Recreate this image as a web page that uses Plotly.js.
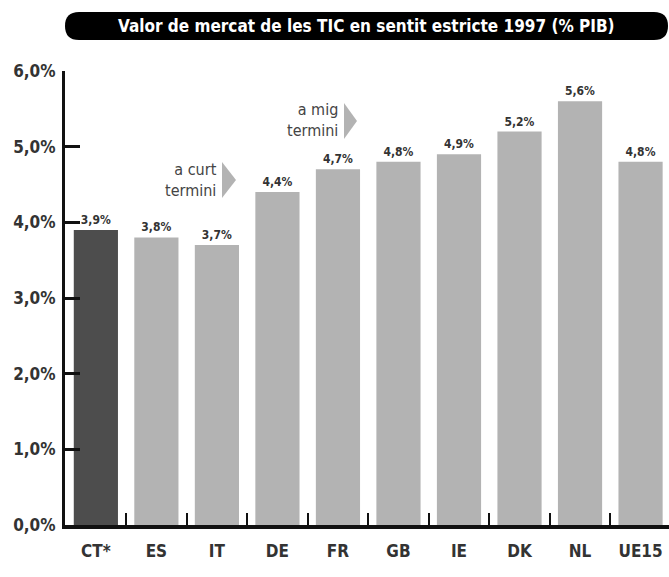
<!DOCTYPE html>
<html><head><meta charset="utf-8">
<script src="https://cdn.plot.ly/plotly-3.0.1.min.js"></script>
<style>html,body{margin:0;padding:0;background:#fff}#chart{width:669px;height:577px}</style>
</head><body><div id="chart"></div>
<script>
const categories = ["CT*","ES","IT","DE","FR","GB","IE","DK","NL","UE15"];
const values = [3.9,3.8,3.7,4.4,4.7,4.8,4.9,5.2,5.6,4.8];
const valueLabels = ["3,9%","3,8%","3,7%","4,4%","4,7%","4,8%","4,9%","5,2%","5,6%","4,8%"];
const yTickVals = [0,1,2,3,4,5,6];
const yTickText = ["0,0%","1,0%","2,0%","3,0%","4,0%","5,0%","6,0%"];
const titleText = "Valor de mercat de les TIC en sentit estricte 1997 (% PIB)";

const W=669,H=577,L=65,R=0,T=71,B=52;
const pw=W-L-R, ph=H-T-B;
const px=x=>(x-L)/pw, py=y=>(H-B-y)/ph;
const FONT='"DejaVu Sans Condensed",Arial,sans-serif';

function pill(x0,y0,x1,y1,r){
  const P=(x,y)=>px(x).toFixed(5)+','+py(y).toFixed(5);
  return 'M'+P(x0+r,y0)+' L'+P(x1-r,y0)+' Q'+P(x1,y0)+' '+P(x1,y0+r)+' L'+P(x1,y1-r)+' Q'+P(x1,y1)+' '+P(x1-r,y1)+
    ' L'+P(x0+r,y1)+' Q'+P(x0,y1)+' '+P(x0,y1-r)+' L'+P(x0,y0+r)+' Q'+P(x0,y0)+' '+P(x0+r,y0)+' Z';
}
function tri(x0,y0,x1,y1){
  const P=(x,y)=>px(x).toFixed(5)+','+py(y).toFixed(5);
  return 'M'+P(x0,y0)+' L'+P(x1,(y0+y1)/2)+' L'+P(x0,y1)+' Z';
}

const colors = categories.map((c,i)=> i===0 ? '#4d4d4d' : '#b3b3b3');

const trace = {
  type:'bar', x:categories, y:values, text:valueLabels, textposition:'outside',
  marker:{color:colors, line:{width:0}},
  textfont:{family:FONT, size:12, color:'#333', weight:'bold'},
  cliponaxis:false, hoverinfo:'none'
};

const layout = {
  width:W, height:H, margin:{l:L,r:R,t:T,b:B}, showlegend:false,
  paper_bgcolor:'#fff', plot_bgcolor:'#fff', bargap:0.27,
  xaxis:{type:'category', range:[-0.51,9.47], showline:true, linewidth:4, linecolor:'#111',
    ticks:'inside', tickson:'boundaries', ticklen:12, tickwidth:2, tickcolor:'#111',
    showgrid:false, zeroline:false, fixedrange:true,
    tickfont:{family:FONT, size:17, color:'#333', weight:'bold'}, ticklabelstandoff:8},
  yaxis:{range:[0,6], showline:true, linewidth:3, linecolor:'#111',
    ticks:'inside', ticklen:15, tickwidth:3, tickcolor:'#111',
    tickvals:yTickVals, ticktext:yTickText, showgrid:false, zeroline:false,
    tickfont:{family:FONT, size:17, color:'#333', weight:'bold'}, ticklabelstandoff:3},
  shapes:[
    {type:'path', xref:'paper', yref:'paper', path:pill(65,12,668,40,14), fillcolor:'#000', line:{width:0}},
    {type:'path', xref:'paper', yref:'paper', path:tri(222,162,236,198), fillcolor:'#b3b3b3', line:{width:0}},
    {type:'path', xref:'paper', yref:'paper', path:tri(344,103,357,139), fillcolor:'#b3b3b3', line:{width:0}}
  ],
  annotations:[
    {xref:'paper', yref:'paper', x:px(366), y:py(26), text:'<b>'+titleText+'</b>', showarrow:false,
      font:{family:FONT, size:17, color:'#fff'}, xanchor:'center', yanchor:'middle'},
    {xref:'paper', yref:'paper', x:px(219), y:py(180), text:'a curt<br>termini', showarrow:false, align:'right',
      font:{family:FONT, size:16, color:'#444'}, xanchor:'right', yanchor:'middle'},
    {xref:'paper', yref:'paper', x:px(340), y:py(120), text:'a mig<br>termini', showarrow:false, align:'right',
      font:{family:FONT, size:16, color:'#444'}, xanchor:'right', yanchor:'middle'}
  ]
};
Plotly.newPlot('chart',[trace],layout,{staticPlot:true, displayModeBar:false});
</script></body></html>
